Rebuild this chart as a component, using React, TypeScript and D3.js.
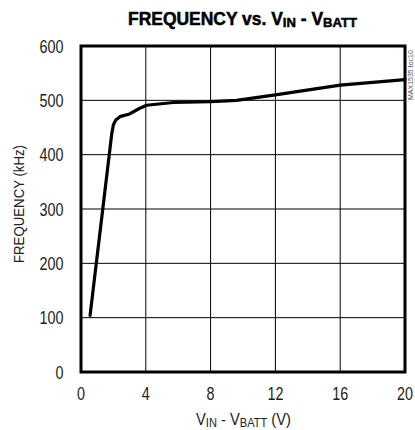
import React from "react";
import * as d3 from "d3";

const xValues = [0.56, 1.9, 2.0, 2.15, 2.4, 3.0, 3.6, 4.05, 5.7, 8.0, 9.6, 12.0, 16.0, 20.0];
const yValues = [104, 439, 455, 464, 470, 475, 485, 491, 496, 497.5, 500, 510, 528, 538];
const xTicks = [0, 4, 8, 12, 16, 20];
const yTicks = [0, 100, 200, 300, 400, 500, 600];

const FONT = "'Liberation Sans', Arial, sans-serif";
const SX = 0.82;

export default function App() {
  const L = 81, R = 405, T = 46, B = 372;
  const x = d3.scaleLinear().domain([0, 20]).range([L, R]);
  const y = d3.scaleLinear().domain([0, 600]).range([B, T]);
  const data = xValues.map((v, i) => [v, yValues[i]] as [number, number]);
  const line = d3.line<[number, number]>().x(d => x(d[0])).y(d => y(d[1])).curve(d3.curveLinear);

  return (
    <svg width={415} height={430} style={{ position: "absolute", left: 0, top: 0, background: "#fff" }}>
      <rect x={0} y={0} width={415} height={430} fill="#fff" />
      <text x={128} y={25} textLength={229} lengthAdjust="spacingAndGlyphs" fontFamily={FONT} fontWeight="bold" fontSize={18} fill="#000" stroke="#000" strokeWidth={0.5}>
        FREQUENCY vs. V<tspan fontSize={13.5} dy={2}>IN</tspan><tspan dy={-2}> - V</tspan><tspan fontSize={13.5} dy={2}>BATT</tspan>
      </text>
      {xTicks.map(t => (
        <line key={"gx" + t} x1={x(t)} x2={x(t)} y1={T} y2={B} stroke="#000" strokeWidth={1} />
      ))}
      {yTicks.map(t => (
        <line key={"gy" + t} x1={L} x2={R} y1={y(t)} y2={y(t)} stroke="#000" strokeWidth={1} />
      ))}
      <rect x={L} y={T} width={R - L} height={B - T} fill="none" stroke="#000" strokeWidth={3} />
      <path d={line(data) || ""} fill="none" stroke="#000" strokeWidth={3.2} strokeLinejoin="round" strokeLinecap="round" />
      {yTicks.map(t => (
        <text key={"ty" + t} transform={`translate(63.5,${y(t) + 6.5}) scale(${SX},1)`} textAnchor="end" fontFamily={FONT} fontSize={17.5} fill="#222">{t}</text>
      ))}
      {xTicks.map(t => (
        <text key={"tx" + t} transform={`translate(${x(t)},400) scale(${SX},1)`} textAnchor="middle" fontFamily={FONT} fontSize={17.5} fill="#222">{t}</text>
      ))}
      <text x={196} y={425} textLength={95} lengthAdjust="spacingAndGlyphs" fontFamily={FONT} fontSize={16} fill="#222">
        V<tspan fontSize={12} dy={2}>IN</tspan><tspan dy={-2}> - V</tspan><tspan fontSize={12} dy={2}>BATT</tspan><tspan dy={-2}> (V)</tspan>
      </text>
      <text transform="translate(24,263) rotate(-90)" textLength={118} lengthAdjust="spacingAndGlyphs" fontFamily={FONT} fontSize={15} fill="#222">FREQUENCY (kHz)</text>
      <text transform="translate(413,100) rotate(-90)" textAnchor="start" fontFamily={FONT} fontSize={7} fill="#555">MAX1535 toc10</text>
    </svg>
  );
}
